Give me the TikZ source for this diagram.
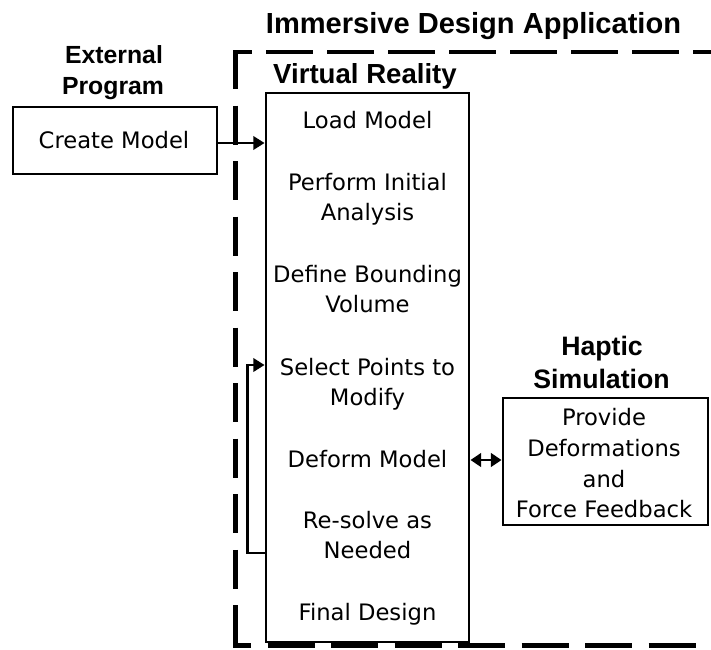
\documentclass[tikz,border=0pt]{standalone}
\usepackage{fontspec}
\setmainfont{DejaVu Sans}
\newfontfamily\headfont{Liberation Sans}
\usetikzlibrary{arrows.meta,fit}

\begin{document}
\begin{tikzpicture}[x=0.75pt,y=-0.75pt,
  heading/.style={font=\headfont\bfseries\fontsize{#1}{#1}\selectfont,
                  anchor=base, inner sep=0pt},
  step text/.style={font=\fontsize{17}{20}\selectfont, anchor=base, inner sep=0pt},
  box/.style={draw, line width=2.1pt, inner sep=0pt},
  tip/.style={Triangle[length=8.5pt,width=10pt]},
  link/.style={line width=2pt, -{Triangle[length=8.5pt,width=10pt]}},
  dlink/.style={line width=2pt, {Triangle[length=8pt,width=10pt]}-{Triangle[length=8pt,width=10pt]}},
  frame/.style={line width=3.6pt}]

\useasboundingbox (0,0) rectangle (711,650);
\clip (0,0) rectangle (711,650);

% dashed frame of the whole application (right side runs off the page)
\draw[frame, dash pattern=on 35.25pt off 10.5pt, dash phase=21pt] (233,52) -- (760,52);
\draw[frame, dash pattern=on 29.25pt off 12.4pt] (235.5,50) -- (235.5,647.5);
\draw[frame, dash pattern=on 35.25pt off 12.4pt, dash phase=21.75pt] (233,645.5) -- (760,645.5);

% headings
\node[heading=21.8] (apptitle) at (473.5,33) {Immersive Design Application};
\node[heading=18.6] (ext1) at (114,63) {External};
\node[heading=18.6] (ext2) at (113,94) {Program};
\node[heading=20.7] (vrtitle) at (365,83) {Virtual Reality};
\node[heading=20] (hap1) at (602,355) {Haptic};
\node[heading=20] (hap2) at (601.5,388) {Simulation};

% boxes
\node[box, fit={(13,107) (217,174)}] (create) {};
\node[box, fit={(266,93) (469,642)}] (vr) {};
\node[box, fit={(503,398) (708,525)}] (hap) {};

% box texts
\node[step text] (t0) at (114,148) {Create Model};

\node[step text] (v1)  at (367.5,128) {Load Model};
\node[step text] (v2a) at (367.5,190) {Perform Initial};
\node[step text] (v2b) at (367.5,220) {Analysis};
\node[step text] (v3a) at (367.5,282) {Define Bounding};
\node[step text] (v3b) at (367.5,312) {Volume};
\node[step text] (v4a) at (367.5,375) {Select Points to};
\node[step text] (v4b) at (367.5,405) {Modify};
\node[step text] (v5)  at (367.5,467) {Deform Model};
\node[step text] (v6a) at (367.5,528) {Re-solve as};
\node[step text] (v6b) at (367.5,558) {Needed};
\node[step text] (v7)  at (367.5,620) {Final Design};

\node[step text] (h1) at (604,425) {Provide};
\node[step text] (h2) at (604,456) {Deformations};
\node[step text] (h3) at (604,487) {and};
\node[step text] (h4) at (604,517) {Force Feedback};

% connectors
\coordinate (yCreate) at (0,143);
\coordinate (yLoopTop) at (0,365);
\coordinate (yLoopBot) at (0,553);
\coordinate (yHaptic) at (0,460);

\draw[link] (create.east |- yCreate) -- (vr.west |- yCreate);
\draw[link] (vr.west |- yLoopBot) -- ++(-17,0) |- (vr.west |- yLoopTop);
\draw[dlink] (vr.east |- yHaptic) -- (hap.west |- yHaptic);

\end{tikzpicture}
\end{document}
